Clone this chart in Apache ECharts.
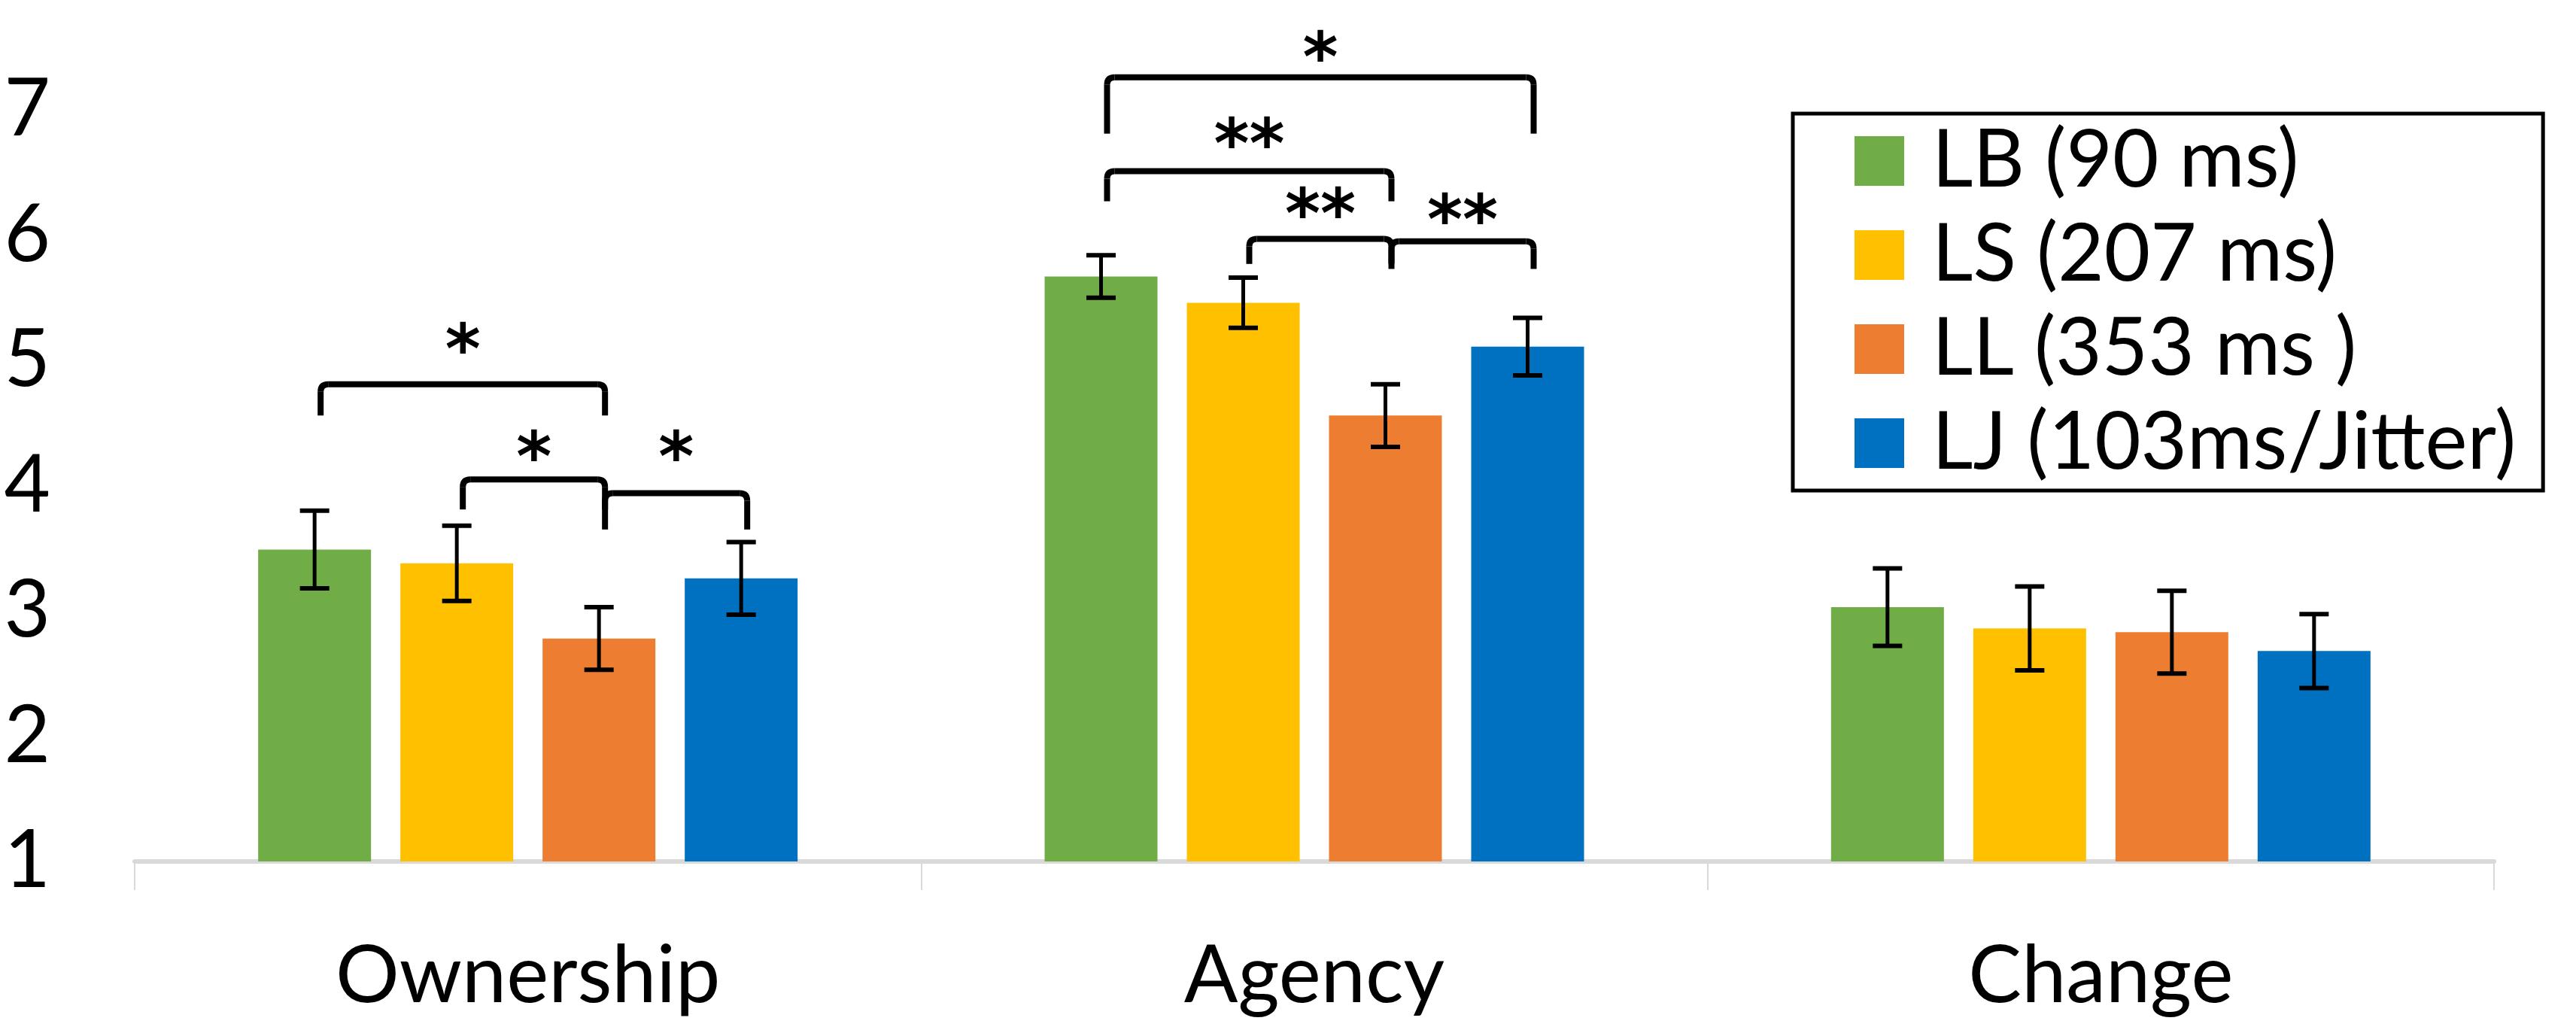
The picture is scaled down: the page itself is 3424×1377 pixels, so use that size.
<!DOCTYPE html>
<html><head><meta charset="utf-8">
<script src="https://cdn.jsdelivr.net/npm/echarts@6/dist/echarts.min.js"></script>
<style>html,body{margin:0;padding:0;background:#fff}#c{width:3424px;height:1377px}</style>
</head><body><div id="c"></div>
<script>
// ---- data ----
const categories = ['Ownership', 'Agency', 'Change'];
const seriesNames = ['LB (90 ms)', 'LS (207 ms)', 'LL (353 ms )', 'LJ (103ms/Jitter)'];
const LB = [3.49, 5.67, 3.03];
const LS = [3.38, 5.46, 2.86];
const LL = [2.78, 4.56, 2.83];
const LJ = [3.26, 5.11, 2.68];
const errLB = [0.31, 0.17, 0.31];
const errLS = [0.30, 0.20, 0.335];
const errLL = [0.25, 0.25, 0.33];
const errLJ = [0.29, 0.23, 0.295];
const yTicks = [1, 2, 3, 4, 5, 6, 7];
// significance brackets: category index, from series, to series, bracket top, leg bottom, label level
const bracketCat = [0, 0, 0, 1, 1, 1, 1];
const bracketFrom = [0, 1, 2, 0, 0, 1, 2];
const bracketTo = [2, 2, 3, 3, 2, 2, 3];
const bracketTop = [4.81, 4.05, 3.94, 7.26, 6.51, 5.97, 5.95];
const bracketBottom = [4.56, 3.81, 3.65, 6.81, 6.27, 5.77, 5.73];
const bracketLabelY = [5.13, 4.27, 4.27, 7.46, 6.77, 6.21, 6.16];
const bracketLabels = ['*', '*', '*', '*', '**', '**', '**'];

// ---- styles / layout ----
const colors = ['#70AD47', '#FFC000', '#ED7D31', '#0070C0'];
const FONT = 'Lato';
const BAR_W = 150, BAR_GAP = 39, SLOT = BAR_W + BAR_GAP, CAP = 39;

const means = [LB, LS, LL, LJ];
const errs = [errLB, errLS, errLL, errLJ];

const errData = [];
means.forEach((arr, s) => arr.forEach((v, c) => errData.push([c, s, v - errs[s][c], v + errs[s][c]])));
const bracketData = bracketCat.map((c, i) => [c, bracketFrom[i], bracketTo[i], bracketTop[i], bracketBottom[i], bracketLabelY[i]]);

const chart = echarts.init(document.getElementById('c'), null, {renderer: 'canvas'});
const barSeries = seriesNames.map((n, s) => ({
  name: n, type: 'bar', data: means[s], barWidth: BAR_W, barGap: (BAR_GAP / BAR_W * 100) + '%',
  itemStyle: {color: colors[s]}, z: 2
}));

chart.setOption({
  animation: false,
  backgroundColor: '#fff',
  grid: {left: 179, right: 109, top: 146, bottom: 232},
  xAxis: {
    type: 'category', data: categories,
    axisLine: {lineStyle: {color: '#D9D9D9', width: 6}},
    axisTick: {show: true, length: 38, lineStyle: {color: '#D9D9D9', width: 2}},
    axisLabel: {margin: 100, fontSize: 106, fontFamily: FONT, color: '#000'}
  },
  yAxis: {
    type: 'value', min: yTicks[0], max: yTicks[yTicks.length - 1], interval: 1,
    axisLine: {show: false}, axisTick: {show: false}, splitLine: {show: false},
    axisLabel: {margin: 112, fontSize: 106, fontFamily: FONT, color: '#000'}
  },
  legend: {
    data: seriesNames, orient: 'vertical', left: 2383, top: 151,
    padding: [10, 36, 10, 82], borderColor: '#000', borderWidth: 5,
    itemWidth: 66, itemHeight: 66, itemGap: 19, icon: 'rect',
    textStyle: {fontSize: 106, fontFamily: FONT, color: '#000', padding: [0, 0, 0, 32]}
  },
  series: barSeries.concat([
    {
      type: 'custom', name: 'err', data: errData, z: 5, clip: false,
      encode: {x: 0, y: [2, 3]},
      renderItem: function (params, api) {
        const cat = api.value(0), s = api.value(1);
        const lo = api.coord([cat, api.value(2)]);
        const hi = api.coord([cat, api.value(3)]);
        const x = lo[0] + (s - 1.5) * SLOT, w = CAP / 2;
        return {type: 'group', children: [
          {type: 'line', shape: {x1: x, y1: lo[1], x2: x, y2: hi[1]}, style: {stroke: '#000', lineWidth: 5}},
          {type: 'line', shape: {x1: x - w, y1: hi[1], x2: x + w, y2: hi[1]}, style: {stroke: '#000', lineWidth: 6}},
          {type: 'line', shape: {x1: x - w, y1: lo[1], x2: x + w, y2: lo[1]}, style: {stroke: '#000', lineWidth: 6}}
        ]};
      }
    },
    {
      type: 'custom', name: 'brackets', data: bracketData, z: 6, clip: false,
      encode: {x: 0, y: [3, 4, 5]},
      renderItem: function (params, api) {
        const cat = api.value(0);
        const c = api.coord([cat, api.value(3)]);
        const yt = c[1];
        const yb = api.coord([cat, api.value(4)])[1];
        const yl = api.coord([cat, api.value(5)])[1];
        const x1 = c[0] + (api.value(1) - 1.5) * SLOT + 8;
        const x2 = c[0] + (api.value(2) - 1.5) * SLOT + 8;
        const r = 10, st = {stroke: '#000', lineWidth: 8, fill: null};
        return {type: 'group', children: [
          {type: 'line', shape: {x1: x1, y1: yb, x2: x1, y2: yt + r}, style: st},
          {type: 'bezierCurve', shape: {x1: x1, y1: yt + r, x2: x1 + r, y2: yt, cpx1: x1, cpy1: yt}, style: st},
          {type: 'line', shape: {x1: x1 + r, y1: yt, x2: x2 - r, y2: yt}, style: st},
          {type: 'bezierCurve', shape: {x1: x2 - r, y1: yt, x2: x2, y2: yt + r, cpx1: x2, cpy1: yt}, style: st},
          {type: 'line', shape: {x1: x2, y1: yt + r, x2: x2, y2: yb}, style: st},
          {type: 'text', style: {text: bracketLabels[params.dataIndex], x: (x1 + x2) / 2, y: yl + 14,
            font: 'bold 90px "DejaVu Sans"', fill: '#000', align: 'center', verticalAlign: 'middle'}}
        ]};
      }
    }
  ])
});
</script></body></html>
